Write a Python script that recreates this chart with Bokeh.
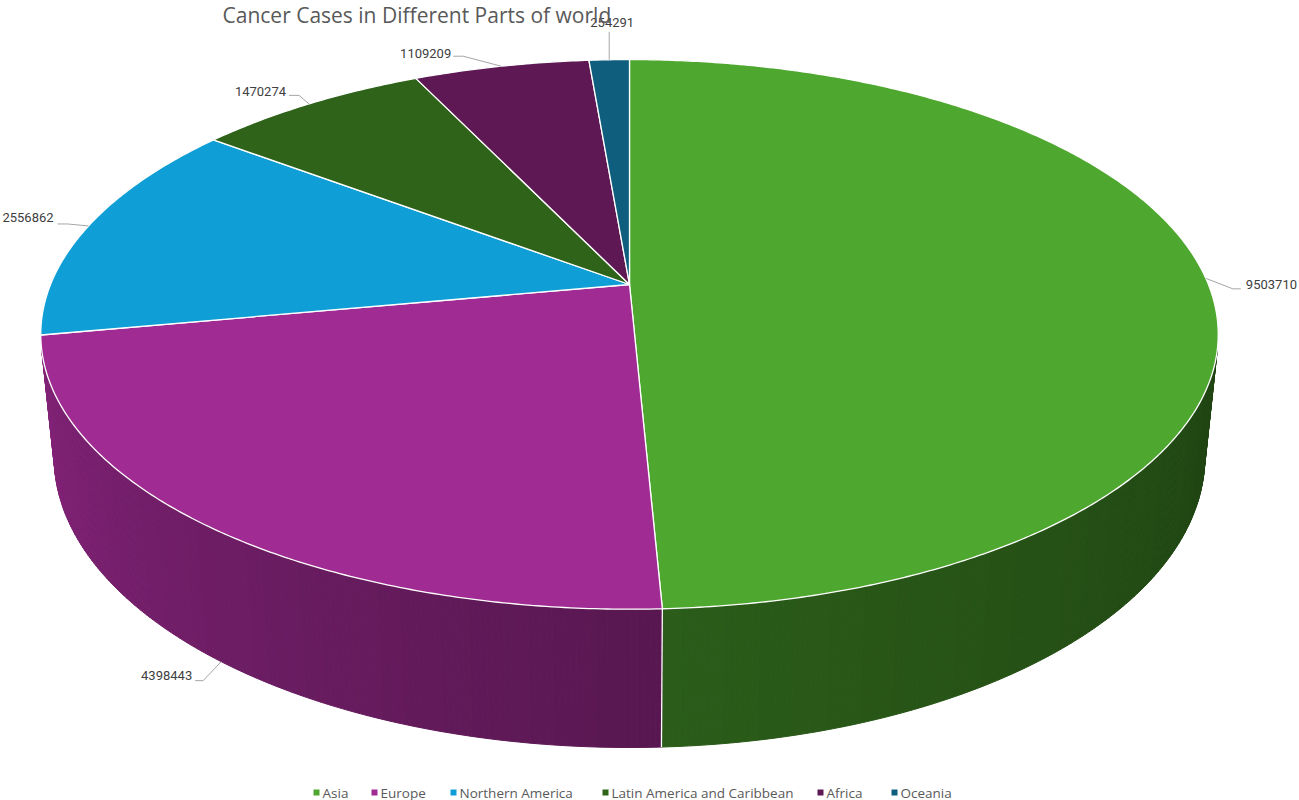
import numpy as np
from bokeh.plotting import figure
from bokeh.models import Range1d, ColumnDataSource
from bokeh.core.properties import value
from bokeh.embed import file_html
from bokeh.resources import INLINE

# ---------------- data ----------------
title_text = "Cancer Cases in Different Parts of world"
regions = ["Asia", "Europe", "Northern America", "Latin America and Caribbean", "Africa", "Oceania"]
cases = [9503710, 4398443, 2556862, 1470274, 1109209, 254291]
colors = ["#4EA72E", "#A02B93", "#0F9ED5", "#2E6319", "#5E1954", "#0F5E7E"]

# ---------------- layout / style ----------------
W, H = 1299, 800
CX, CY = 629.0, 284.0          # projected pie centre
F = 2831.0                      # focal length (px)
D = 4.89                        # camera distance (pie radii)
SA, CA = 0.459, 0.888           # sin / cos of the view elevation
THICK = 0.2405                  # pie thickness (pie radii)

FONT = value("Roboto")
FONT2 = value("Open Sans")
LEADER = "#A6A6A6"

# label placement: anchor on top/bottom rim, elbow offset, tail length, text offset, alignment
label_layout = [
    dict(rim="top",    elbow=(27, 10.5), tail=8,  text=(5, -4),  align="left"),
    dict(rim="bottom", elbow=(-18, 19),  tail=-8, text=(-3, -5), align="right"),
    dict(rim="top",    elbow=(-21, -2),  tail=-10, text=(-4, -6), align="right"),
    dict(rim="top",    elbow=(-10, -8.5), tail=-10, text=(-3, -4), align="right"),
    dict(rim="top",    elbow=(-38, -10), tail=-10, text=(-2, -3), align="right"),
    dict(rim="top",    elbow=(0, -28),   tail=0,  text=(3, -9),  align="center"),
]
legend_x = [316, 374, 453, 605, 820, 894]
legend_y = 792


def project(phi, z):
    phi = np.asarray(phi, dtype=float)
    x = np.sin(phi)
    y = np.cos(phi)
    den = D + y * CA - z * SA
    sy = y * SA + z * CA
    return CX + F * x / den, CY - F * sy / den


def shade(hexcol, f):
    h = hexcol.lstrip("#")
    r, g, b = (int(h[i:i + 2], 16) for i in (0, 2, 4))
    return "#%02x%02x%02x" % (int(r * f), int(g * f), int(b * f))


def shade_factor(phi):
    deg = np.degrees(phi)
    return float(np.interp(deg, [90, 180, 270], [0.38, 0.56, 0.86]))


total = float(sum(cases))
bounds = np.concatenate([[0.0], np.cumsum(cases) / total]) * 2 * np.pi

p = figure(width=W, height=H, x_range=Range1d(0, W), y_range=Range1d(H, 0),
           output_backend="svg", toolbar_location=None, min_border=0)
p.axis.visible = False
p.grid.visible = False
p.outline_line_color = None
p.background_fill_color = "white"
p.border_fill_color = "white"

# ---------------- side wall (visible front part) ----------------
lim = np.arccos(-1.0 / (D * CA))
brk = list(np.arange(lim, 2 * np.pi - lim, np.radians(0.5))) + [2 * np.pi - lim]
brk += [b for b in bounds if lim < b < 2 * np.pi - lim]
brk = np.array(sorted(set(brk)))
sx, sy, sc = [], [], []
for a0, a1 in zip(brk[:-1], brk[1:]):
    mid = 0.5 * (a0 + a1)
    idx = int(np.searchsorted(bounds, mid) - 1)
    tx, ty = project([a0, a1], 0.0)
    bx, by = project([a1, a0], -THICK)
    sx.append(list(tx) + list(bx))
    sy.append(list(ty) + list(by))
    sc.append(shade(colors[idx], shade_factor(mid)))
p.patches("xs", "ys", source=ColumnDataSource(dict(xs=sx, ys=sy, c=sc)),
          fill_color="c", line_color="c", line_width=1)

# white edge where slices meet on the side wall
for b in bounds[1:-1]:
    if lim < b < 2 * np.pi - lim:
        tx, ty = project([b], 0.0)
        bx, by = project([b], -THICK)
        p.line([tx[0], bx[0]], [ty[0], by[0]], line_color="white", line_width=1.3)

# ---------------- top face ----------------
txs, tys = [], []
for a0, a1 in zip(bounds[:-1], bounds[1:]):
    n = max(3, int(np.degrees(a1 - a0) * 2) + 2)
    ph = np.linspace(a0, a1, n)
    x, y = project(ph, 0.0)
    txs.append([CX] + list(x))
    tys.append([CY] + list(y))
p.patches("xs", "ys", source=ColumnDataSource(dict(xs=txs, ys=tys, c=colors)),
          fill_color="c", line_color="white", line_width=1.3, line_join="round")

# ---------------- data labels with leader lines ----------------
lx, ly, lt, la = [], [], [], []
for i, lay in enumerate(label_layout):
    mid = 0.5 * (bounds[i] + bounds[i + 1])
    z = 0.0 if lay["rim"] == "top" else -THICK
    ax, ay = project([mid], z)
    ax, ay = float(ax[0]), float(ay[0])
    ex, ey = ax + lay["elbow"][0], ay + lay["elbow"][1]
    tx_, ty_ = ex + lay["tail"], ey
    p.line([ax, ex, tx_], [ay, ey, ty_], line_color=LEADER, line_width=1)
    lx.append(tx_ + lay["text"][0])
    ly.append(ty_ + lay["text"][1])
    lt.append(str(cases[i]))
    la.append(lay["align"])
p.text("x", "y", text="t", source=ColumnDataSource(dict(x=lx, y=ly, t=lt, a=la)),
       text_align="a", text_baseline="middle", text_font=FONT,
       text_font_size="13px", text_color="#404040")

# ---------------- title ----------------
p.text([222], [14], text=[title_text], text_font=FONT2, text_font_size="21px",
       text_color="#595959", text_baseline="middle", text_align="left")

# ---------------- legend ----------------
p.scatter(legend_x, [legend_y] * len(regions), marker="square", size=6,
          fill_color=colors, line_color=None)
p.text([x + 6 for x in legend_x], [legend_y] * len(regions), text=regions,
       text_font=FONT2, text_font_size="13.5px", text_color="#595959",
       text_baseline="middle", text_align="left")

open("out.html", "w").write(file_html(p, INLINE))
